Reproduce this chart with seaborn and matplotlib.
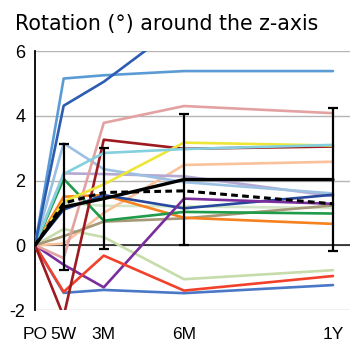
import matplotlib
matplotlib.use("Agg")
import matplotlib.pyplot as plt
import seaborn as sns
import pandas as pd

# ---- data ----
timepoints = ["PO", "5W", "3M", "6M", "1Y"]
weeks = [0, 5, 12, 26, 52]

dark_blue   = [0, 4.31, 5.05, 6.9, 7.3]
sky_blue    = [0, 5.15, 5.25, 5.38, 5.38]
steel_blue  = [0, 3.15, 2.35, 1.95, 1.6]
cyan        = [0, 2.2, 2.85, 2.97, 3.1]
pink        = [0, -0.4, 3.78, 4.3, 4.08]
dark_red    = [0, -2.2, 3.26, 2.98, 3.05]
yellow      = [0, 1.35, 1.88, 3.17, 3.08]
peach       = [0, 0.05, 1.0, 2.48, 2.58]
orange      = [0, 1.5, 1.55, 0.85, 0.66]
green       = [0, 2.05, 0.76, 1.03, 0.98]
olive       = [0, 0.28, 0.73, 0.83, 1.23]
pale_green  = [0, 0.5, 0.25, -1.05, -0.77]
mint        = [0, 1.3, 1.22, 1.2, 1.15]
red         = [0, -1.44, -0.32, -1.4, -0.95]
mid_blue    = [0, -1.47, -1.38, -1.48, -1.23]
purple      = [0, -0.6, -1.3, 1.44, 1.28]
navy        = [0, 1.1, 1.55, 1.14, 1.56]
lavender    = [0, 2.22, 2.2, 2.13, 1.52]

mean_vals   = [0, 1.18, 1.44, 2.03, 2.03]
mean_sd     = [0, 1.95, 1.55, 2.03, 2.2]
dashed_vals = [0, 1.3, 1.63, 1.68, 1.28]

yticks = [-2, 0, 2, 4, 6]
ytick_labels = ["-2", "0", "2", "4", "6"]
title = "Rotation (°) around the z-axis"

series = {
    "pale_green": (pale_green, "#c6dcaa"),
    "mint": (mint, "#d3e6c8"),
    "peach": (peach, "#f9c29b"),
    "olive": (olive, "#a49876"),
    "lavender": (lavender, "#b5a9d3"),
    "steel_blue": (steel_blue, "#9cc0e2"),
    "orange": (orange, "#f5821f"),
    "green": (green, "#1f9b49"),
    "navy": (navy, "#27489c"),
    "purple": (purple, "#7a2e9b"),
    "mid_blue": (mid_blue, "#4a78c6"),
    "red": (red, "#f2412b"),
    "pink": (pink, "#e3a1a1"),
    "dark_red": (dark_red, "#9d1b20"),
    "yellow": (yellow, "#eee636"),
    "cyan": (cyan, "#84d0df"),
    "sky_blue": (sky_blue, "#5b9bd5"),
    "dark_blue": (dark_blue, "#2d5db2"),
}

rows = []
for name, (vals, col) in series.items():
    for w, v in zip(weeks, vals):
        rows.append({"series": name, "week": w, "value": v})
df = pd.DataFrame(rows)
palette = {name: col for name, (vals, col) in series.items()}

sns.set_style("white")
plt.rcParams["font.family"] = ["Liberation Sans", "DejaVu Sans"]

fig = plt.figure(figsize=(3.5, 3.43), dpi=100)
ax = fig.add_axes([0.1, 0.0962, 0.9, 0.7551])

ax.yaxis.grid(True, color="#b5b5b5", linewidth=1.0)
ax.set_axisbelow(True)
ax.axhline(0, color="#222222", linewidth=1.2, zorder=1)

sns.lineplot(data=df, x="week", y="value", hue="series", palette=palette,
             hue_order=list(series.keys()), linewidth=1.9, legend=False,
             estimator=None, sort=False, ax=ax, zorder=3)

ax.errorbar(weeks[1:], mean_vals[1:], yerr=mean_sd[1:], fmt="none",
            ecolor="black", elinewidth=1.6, capsize=3.5, capthick=1.6, zorder=5)
sns.lineplot(x=weeks, y=dashed_vals, color="black", linewidth=2.2,
             linestyle=(0, (2.2, 1.4)), ax=ax, zorder=6)
sns.lineplot(x=weeks, y=mean_vals, color="black", linewidth=2.4, ax=ax, zorder=6)

ax.set_xlim(0, 54.97)
ax.set_ylim(-2, 6)
ax.set_xticks(weeks)
ax.set_xticklabels(timepoints, fontsize=12.5, color="black")
ax.set_yticks(yticks)
ax.set_yticklabels(ytick_labels, fontsize=13, color="black")
ax.set_xlabel("")
ax.set_ylabel("")
ax.tick_params(axis="x", length=0, pad=12)
ax.tick_params(axis="y", length=4, width=1.2, direction="out", pad=3, color="black")
for s in ["top", "right", "bottom"]:
    ax.spines[s].set_visible(False)
ax.spines["left"].set_color("black")
ax.spines["left"].set_linewidth(1.3)

fig.text(0.043, 0.958, title, ha="left", va="top", fontsize=14.8,
         color="black", family=["DejaVu Sans"])

fig.savefig("out.png", dpi=100)
